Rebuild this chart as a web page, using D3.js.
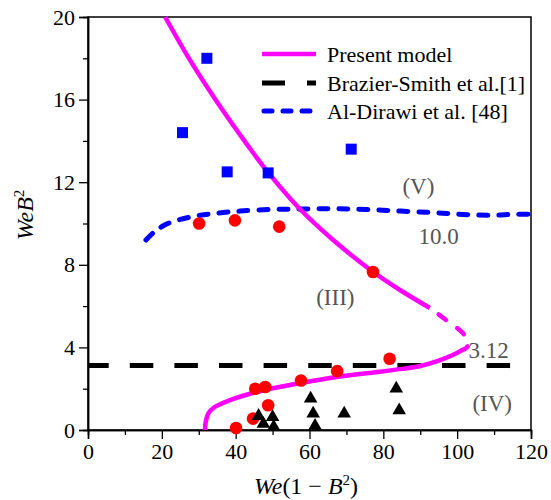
<!DOCTYPE html>
<html>
<head>
<meta charset="utf-8">
<title>WeB2 regime map</title>
<style>
  body { margin: 0; background: #fff; }
  svg text { font-family: "Liberation Serif", "Times New Roman", serif; }
</style>
</head>
<body>
<div id="chart"></div>
<script src="https://d3js.org/d3.v7.min.js"></script>
<script>
// present model: upper branch (solid), dashed nose, lower branch (solid)
var modelUpper = [[20.9,20],[27.6,17.92],[34.6,15.98],[43.6,13.7],[48.9,12.45],[57.4,10.7],[66.4,9.2],[76.9,7.7],[84.5,6.78],[92.6,5.91]];
var modelNose = [[92.6,5.91],[97.2,5.3],[101.6,4.68],[103.2,4.2],[102.5,3.98],[101.3,3.87]];
var modelLower = [[31.7,0],[31.9,0.4],[32.6,0.8],[34.2,1.1],[38.5,1.45],[47.9,1.94],[57.7,2.28],[67.4,2.57],[79.1,2.82],[85,2.96],[90,3.1],[95,3.36],[98.8,3.63],[101.3,3.87]];
var brazier = [[0,3.12],[120,3.12]];
var alDirawi = [[15.7,9.2],[18,9.6],[21,9.95],[25,10.2],[30.4,10.4],[35,10.5],[41.2,10.6],[50,10.68],[57.5,10.7],[65,10.72],[71,10.7],[78,10.66],[84.6,10.6],[92,10.54],[98,10.48],[104,10.42],[110,10.4],[115,10.44],[120,10.45]];

var squares = [[25.6,14.4],[32.2,18.0],[37.7,12.5],[48.8,12.45],[71.3,13.6]];
var circles = [[30.1,10.0],[39.8,10.15],[51.8,9.85],[77.2,7.65],[81.7,3.45],[67.5,2.85],[57.7,2.4],[48.0,2.08],[45.3,2.0],[48.8,1.2],[44.7,0.55],[40.1,0.1]];
var triangles = [[60.3,1.52],[83.5,2.0],[61.0,0.8],[69.4,0.8],[84.3,0.95],[50.0,0.62],[46.2,0.68],[61.5,0.2],[50.3,0.15],[47.5,0.3]];

var xTicks = [0,20,40,60,80,100,120];
var yTicks = [0,4,8,12,16,20];
var legendNames = ["Present model","Brazier-Smith et al.[1]","Al-Dirawi et al. [48]"];
var regionLabels = [["(V)",89.5,11.8],["10.0",95,9.4],["(III)",67,6.45],["3.12",108.5,3.9],["(IV)",109.5,1.3]];

var width = 551, height = 500;
var margin = {top: 17, right: 20, bottom: 70, left: 88};

var svg = d3.select("#chart").append("svg")
    .attr("width", width)
    .attr("height", height);

var x = d3.scaleLinear().domain([0,120]).range([margin.left, width - margin.right]);
var y = d3.scaleLinear().domain([0,20]).range([height - margin.bottom, margin.top]);

var line = d3.line()
    .x(function(d) { return x(d[0]); })
    .y(function(d) { return y(d[1]); })
    .curve(d3.curveCatmullRom.alpha(0.5));

// frame
svg.append("rect")
    .attr("x", x(0)).attr("y", y(20))
    .attr("width", x(120) - x(0)).attr("height", y(0) - y(20))
    .attr("fill", "none").attr("stroke", "#000").attr("stroke-width", 1.5);

// axes with minor ticks
var xMinor = d3.axisBottom(x).tickValues(d3.range(10,120,20)).tickSize(5).tickFormat("");
var yMinor = d3.axisLeft(y).tickValues(d3.range(2,20,4)).tickSize(5).tickFormat("");
svg.append("g").attr("transform", "translate(0," + y(0) + ")").call(xMinor);
svg.append("g").attr("transform", "translate(" + x(0) + ",0)").call(yMinor);

svg.append("g")
    .attr("transform", "translate(0," + y(0) + ")")
    .call(d3.axisBottom(x).tickValues(xTicks).tickSize(9).tickPadding(4));
svg.append("g")
    .attr("transform", "translate(" + x(0) + ",0)")
    .call(d3.axisLeft(y).tickValues(yTicks).tickSize(9).tickPadding(4));

svg.selectAll(".domain").attr("stroke-width", 1.5);
svg.selectAll(".tick line").attr("stroke-width", 1.3);
svg.selectAll(".tick text")
    .attr("font-size", 22)
    .attr("fill", "#000");

// axis titles
var xt = svg.append("text")
    .attr("x", 306).attr("y", 494)
    .attr("text-anchor", "middle")
    .attr("font-size", 24);
xt.append("tspan").attr("font-style", "italic").text("We");
xt.append("tspan").text("(1 \u2212 ");
xt.append("tspan").attr("font-style", "italic").text("B");
xt.append("tspan").attr("font-size", 15).attr("dy", -9).text("2");
xt.append("tspan").attr("dy", 9).text(")");

var yt = svg.append("text")
    .attr("transform", "translate(33,215) rotate(-90)")
    .attr("text-anchor", "middle")
    .attr("font-size", 24);
yt.append("tspan").attr("font-style", "italic").text("WeB");
yt.append("tspan").attr("font-size", 15).attr("dy", -9).text("2");

// lines
svg.append("path").datum(brazier)
    .attr("d", line)
    .attr("fill", "none").attr("stroke", "#000").attr("stroke-width", 5)
    .attr("stroke-dasharray", "23.5 21.1").attr("stroke-dashoffset", 2.8);

svg.append("path").datum(alDirawi)
    .attr("d", line)
    .attr("fill", "none").attr("stroke", "#0000ff").attr("stroke-width", 5)
    .attr("stroke-linecap", "round")
    .attr("stroke-dasharray", "9 11");

svg.append("path").datum(modelUpper)
    .attr("d", line)
    .attr("fill", "none").attr("stroke", "#ff00ff").attr("stroke-width", 4.5);
svg.append("path").datum(modelNose)
    .attr("d", line)
    .attr("fill", "none").attr("stroke", "#ff00ff").attr("stroke-width", 4.5)
    .attr("stroke-linecap", "round")
    .attr("stroke-dasharray", "9 14").attr("stroke-dashoffset", 12);
svg.append("path").datum(modelLower)
    .attr("d", line)
    .attr("fill", "none").attr("stroke", "#ff00ff").attr("stroke-width", 4.5);

// points
svg.append("g").selectAll("rect").data(squares).enter().append("rect")
    .attr("x", function(d) { return x(d[0]) - 5.5; })
    .attr("y", function(d) { return y(d[1]) - 5.5; })
    .attr("width", 11).attr("height", 11)
    .attr("fill", "#0000ff");

svg.append("g").selectAll("circle").data(circles).enter().append("circle")
    .attr("cx", function(d) { return x(d[0]); })
    .attr("cy", function(d) { return y(d[1]); })
    .attr("r", 6.3)
    .attr("fill", "#ff0000");

var tri = d3.symbol().type(d3.symbolTriangle).size(80);
svg.append("g").selectAll("path").data(triangles).enter().append("path")
    .attr("d", tri)
    .attr("transform", function(d) { return "translate(" + x(d[0]) + "," + y(d[1]) + ")"; })
    .attr("fill", "#000");

// region labels
svg.append("g").selectAll("text").data(regionLabels).enter().append("text")
    .attr("x", function(d) { return x(d[1]); })
    .attr("y", function(d) { return y(d[2]); })
    .attr("dy", "0.35em")
    .attr("text-anchor", "middle")
    .attr("font-size", 23)
    .attr("fill", "#555")
    .text(function(d) { return d[0]; });

// legend
var lg = svg.append("g").attr("transform", "translate(262,54)");
lg.append("line").attr("x1", 0).attr("x2", 54).attr("y1", 0).attr("y2", 0)
    .attr("stroke", "#ff00ff").attr("stroke-width", 4.5);
lg.append("line").attr("x1", 0).attr("x2", 54).attr("y1", 29).attr("y2", 29)
    .attr("stroke", "#000").attr("stroke-width", 5).attr("stroke-dasharray", "23 22");
lg.append("line").attr("x1", 2).attr("x2", 54).attr("y1", 57).attr("y2", 57)
    .attr("stroke", "#0000ff").attr("stroke-width", 5)
    .attr("stroke-linecap", "round").attr("stroke-dasharray", "8 11");
lg.selectAll("text.leg").data(legendNames).enter().append("text")
    .attr("class", "leg")
    .attr("x", 65)
    .attr("y", function(d, i) { return [0,29,57][i]; })
    .attr("dy", "0.35em")
    .attr("font-size", 22)
    .attr("fill", "#000")
    .text(function(d) { return d; });
</script>
</body>
</html>
